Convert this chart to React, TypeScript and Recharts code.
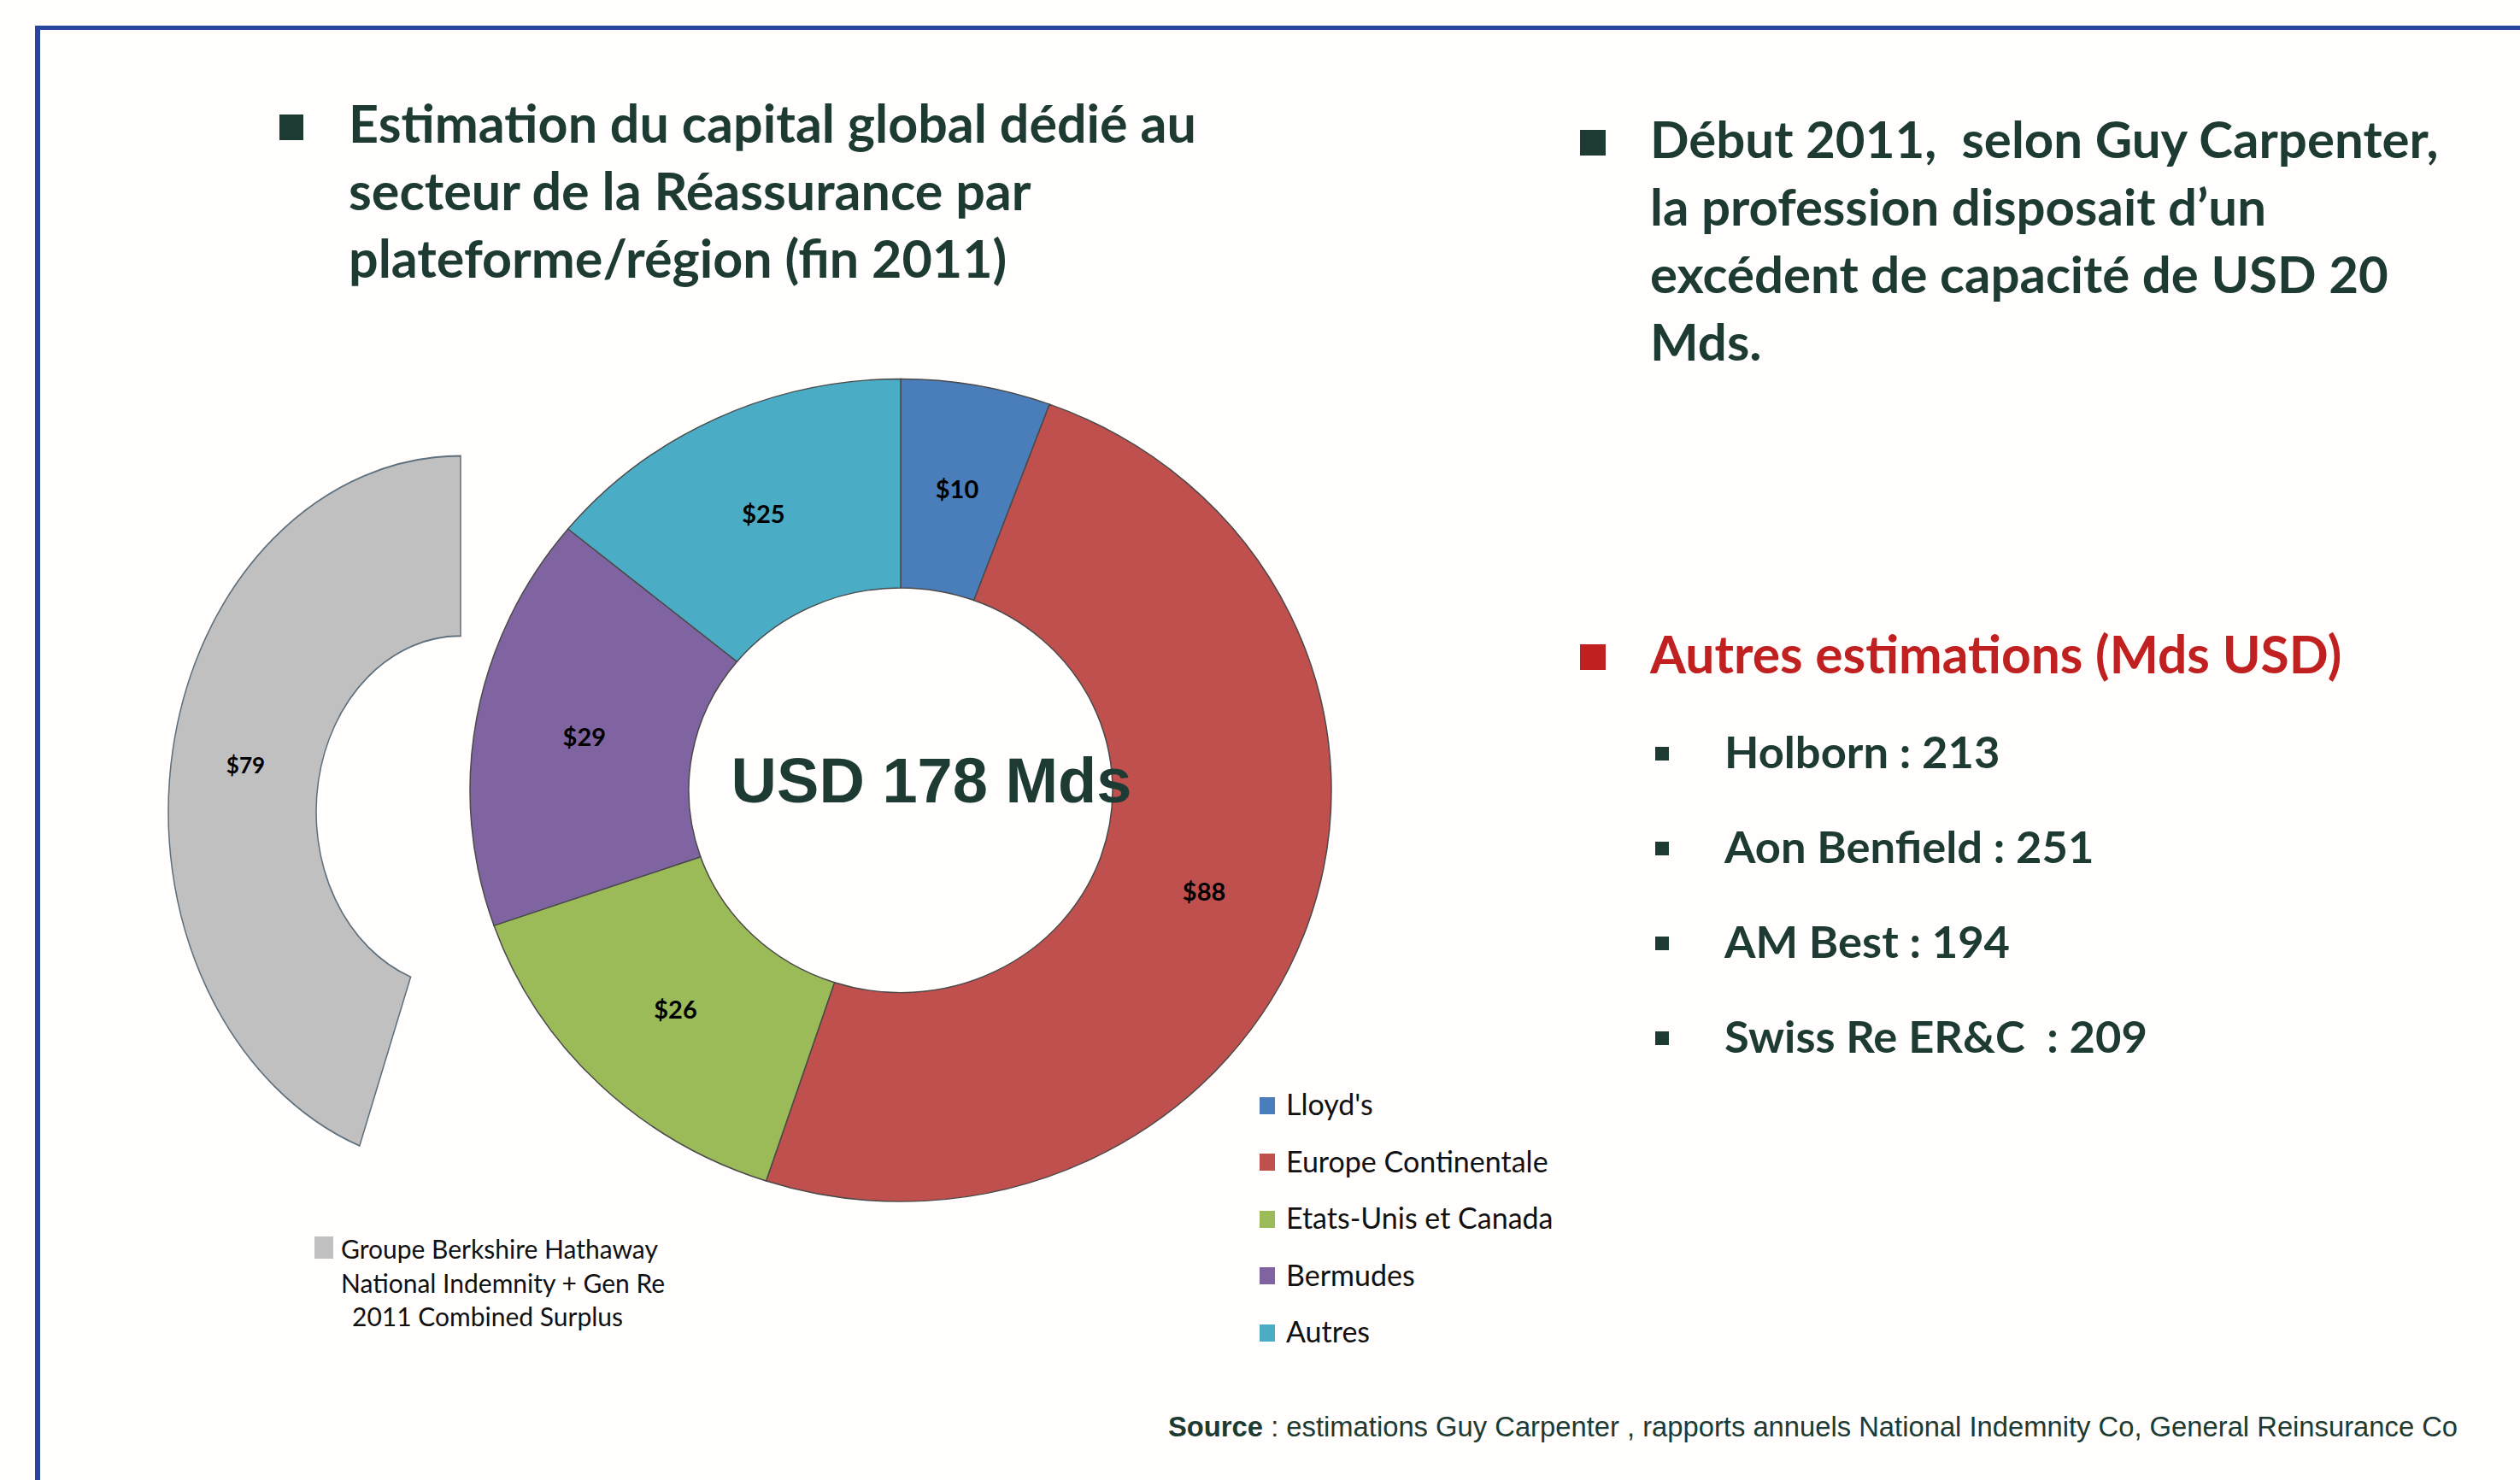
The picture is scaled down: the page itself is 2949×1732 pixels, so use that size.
import React from 'react';
import { PieChart, Pie, Cell } from 'recharts';

// ---------- data ----------
const regions = ["Lloyd's", 'Europe Continentale', 'Etats-Unis et Canada', 'Bermudes', 'Autres'];
const regionValues = [10, 88, 26, 29, 25];
const regionColors = ['#4A7EBB', '#C0504D', '#9BBB59', '#8064A2', '#4BACC6'];

const berkshireName = 'Groupe Berkshire Hathaway';
const berkshireValue = 79;
const berkshireLegendLines = ['Groupe Berkshire Hathaway', 'National Indemnity + Gen Re', '2011 Combined Surplus'];

const centerLabel = 'USD 178 Mds';

const leftTitleLines = ['Estimation du capital global dédié au', 'secteur de la Réassurance par', 'plateforme/région (fin 2011)'];
const rightTextLines = ['Début 2011,  selon Guy Carpenter,', 'la profession disposait d\u2019un', 'excédent de capacité de USD 20', 'Mds.'];
const otherTitle = 'Autres estimations (Mds USD)';
const otherNames = ['Holborn', 'Aon Benfield', 'AM Best', 'Swiss Re ER&C '];
const otherValues = [213, 251, 194, 209];
const sourceLabel = 'Source';
const sourceText = ' : estimations Guy Carpenter , rapports annuels National Indemnity Co, General Reinsurance Co';

// ---------- derived ----------
const total = regionValues.reduce((a, b) => a + b, 0);
const mainData = regions.map((name, i) => ({ name, value: regionValues[i] }));
const greyData = [
  { name: berkshireName, value: berkshireValue },
  { name: 'rest', value: total - berkshireValue },
];

const DARK = '#1d3b33';
const RED = '#c0201f';
const FONT = 'Lato, "Open Sans", sans-serif';
const RAD = Math.PI / 180;

const makeLabel = (sy: number, fontSize: number, skipIndex: number | null) => (props: any) => {
  const { cx, cy, midAngle, innerRadius, outerRadius, value, index } = props;
  if (skipIndex !== null && index === skipIndex) return null;
  const r = (innerRadius + outerRadius) / 2;
  const x = cx + r * Math.cos(-midAngle * RAD);
  const y = cy + r * Math.sin(-midAngle * RAD);
  return (
    <text
      transform={`translate(${x},${y}) scale(1,${1 / sy})`}
      x={0}
      y={0}
      textAnchor="middle"
      dominantBaseline="central"
      fill="#000"
      fontFamily={FONT}
      fontWeight={700}
      fontSize={fontSize}
    >
      {'$' + value}
    </text>
  );
};

const textTop = (baseline: number, fs: number, lh: number) => baseline - (lh - 1.2 * fs) / 2 - 0.987 * fs;

const Square = ({ x, y, w, h, c }: { x: number; y: number; w: number; h: number; c: string }) => (
  <div style={{ position: 'absolute', left: x, top: y, width: w, height: h, background: c }} />
);

export default function App() {
  const MAIN_SY = 0.955;
  const GREY_SY = 1.218;
  const MCX = 1049;
  const MCY = 920;
  const GCX = 534;
  const GCY = 944;
  return (
    <div
      style={{
        position: 'absolute',
        left: 0,
        top: 0,
        width: 2949,
        height: 1732,
        background: '#fffefd',
        overflow: 'hidden',
        fontFamily: FONT,
      }}
    >
      {/* frame */}
      <div style={{ position: 'absolute', left: 41, top: 30, width: 3000, height: 5, background: '#2a469c' }} />
      <div style={{ position: 'absolute', left: 41, top: 30, width: 6, height: 1800, background: '#2a469c' }} />

      {/* left title */}
      <Square x={327} y={134} w={28} h={30} c={DARK} />
      <div
        style={{
          position: 'absolute',
          left: 408,
          top: textTop(167, 61, 79),
          fontSize: 61,
          lineHeight: '79px',
          fontWeight: 700,
          color: DARK,
          whiteSpace: 'pre',
        }}
      >
        {leftTitleLines.join('\n')}
      </div>

      {/* right text */}
      <Square x={1849} y={152} w={30} h={30} c={DARK} />
      <div
        style={{
          position: 'absolute',
          left: 1931,
          top: textTop(186, 60, 79),
          fontSize: 60,
          lineHeight: '79px',
          fontWeight: 700,
          color: DARK,
          whiteSpace: 'pre',
        }}
      >
        {rightTextLines.join('\n')}
      </div>

      <Square x={1849} y={754} w={30} h={30} c={RED} />
      <div
        style={{
          position: 'absolute',
          left: 1931,
          top: textTop(788, 60.5, 72),
          fontSize: 60.5,
          lineHeight: '72px',
          fontWeight: 700,
          color: RED,
          whiteSpace: 'pre',
        }}
      >
        {otherTitle}
      </div>

      {otherNames.map((n, i) => (
        <React.Fragment key={n}>
          <Square x={1937} y={874 + i * 111} w={16} h={16} c={DARK} />
          <div
            style={{
              position: 'absolute',
              left: 2018,
              top: textTop(899 + i * 111, 52.5, 64),
              fontSize: 52.5,
              lineHeight: '64px',
              fontWeight: 700,
              color: DARK,
              whiteSpace: 'pre',
            }}
          >
            {n + ' : ' + otherValues[i]}
          </div>
        </React.Fragment>
      ))}

      {/* grey partial donut */}
      <div
        style={{
          position: 'absolute',
          left: GCX - 360,
          top: GCY - 360,
          width: 720,
          height: 720,
          transform: `scaleY(${GREY_SY})`,
          transformOrigin: '50% 50%',
        }}
      >
        <PieChart width={720} height={720}>
          <Pie
            data={greyData}
            dataKey="value"
            nameKey="name"
            cx={360}
            cy={360}
            outerRadius={342}
            innerRadius={169}
            startAngle={90}
            endAngle={450}
            isAnimationActive={false}
            label={makeLabel(GREY_SY, 26, 1)}
            labelLine={false}
          >
            <Cell fill="#c0c0c0" stroke="#5e6f7c" strokeWidth={1.5} />
            <Cell fill="none" stroke="none" />
          </Pie>
        </PieChart>
      </div>

      {/* main donut */}
      <div
        style={{
          position: 'absolute',
          left: MCX - 550,
          top: MCY - 550,
          width: 1100,
          height: 1100,
          transform: `scaleY(${MAIN_SY})`,
          transformOrigin: '50% 50%',
        }}
      >
        <PieChart width={1100} height={1100}>
          <Pie
            data={mainData}
            dataKey="value"
            nameKey="name"
            cx={550}
            cy={550}
            outerRadius={504}
            innerRadius={248}
            startAngle={90}
            endAngle={-270}
            isAnimationActive={false}
            label={makeLabel(MAIN_SY, 29, null)}
            labelLine={false}
          >
            {mainData.map((d, i) => (
              <Cell key={d.name} fill={regionColors[i]} stroke="#4a4a4a" strokeWidth={1.5} />
            ))}
          </Pie>
        </PieChart>
      </div>

      {/* center label */}
      <div
        style={{
          position: 'absolute',
          left: 1090 - 300,
          width: 600,
          textAlign: 'center',
          top: 938 - 0.905 * 74 - (89 - 1.149 * 74) / 2,
          fontFamily: '"Liberation Sans", Arial, sans-serif',
          fontWeight: 700,
          fontSize: 74,
          lineHeight: '89px',
          color: DARK,
        }}
      >
        {centerLabel}
      </div>

      {/* main legend */}
      {regions.map((r, i) => (
        <React.Fragment key={r}>
          <Square x={1474} y={1284 + i * 66.4} w={18} h={20} c={regionColors[i]} />
          <div
            style={{
              position: 'absolute',
              left: 1505,
              top: textTop(1305 + i * 66.4, 34, 41),
              fontSize: 34,
              lineHeight: '41px',
              color: '#111',
              whiteSpace: 'pre',
            }}
          >
            {r}
          </div>
        </React.Fragment>
      ))}

      {/* grey legend */}
      <Square x={368} y={1447} w={22} h={26} c="#c0c0c0" />
      {berkshireLegendLines.map((l, i) => (
        <div
          key={l}
          style={{
            position: 'absolute',
            left: i === 2 ? 412 : 399,
            top: textTop(1473 + i * 39.5, 30, 36),
            fontSize: 30,
            lineHeight: '36px',
            color: '#111',
            whiteSpace: 'pre',
          }}
        >
          {l}
        </div>
      ))}

      {/* source */}
      <div
        style={{
          position: 'absolute',
          left: 1367,
          top: 1680 - 0.905 * 32.75 - (39 - 1.149 * 32.75) / 2,
          fontFamily: '"Liberation Sans", Arial, sans-serif',
          fontSize: 32.75,
          lineHeight: '39px',
          color: DARK,
          whiteSpace: 'pre',
        }}
      >
        <b>{sourceLabel}</b>
        {sourceText}
      </div>
    </div>
  );
}
